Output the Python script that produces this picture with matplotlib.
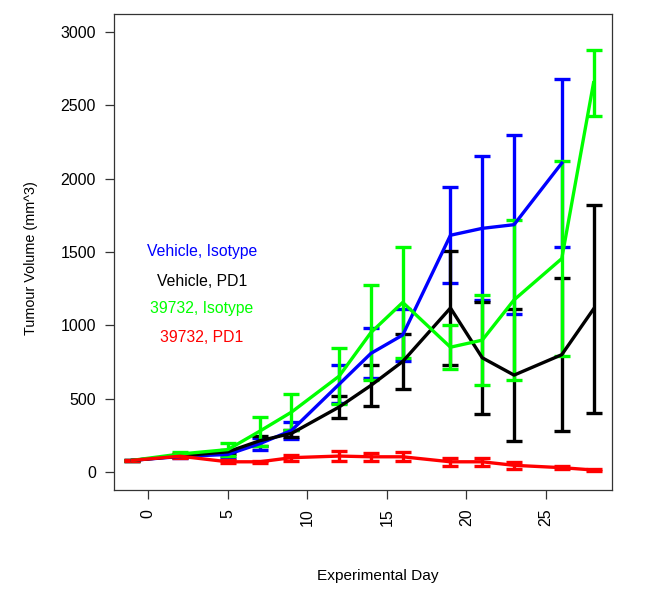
import numpy as np
import matplotlib
matplotlib.use("Agg")
import matplotlib.pyplot as plt

plt.rcParams['font.family'] = ['Liberation Sans', 'DejaVu Sans']

days = [-1, 2, 5, 7, 9, 12, 14, 16, 19, 21, 23, 26, 28]

series_names = ["Vehicle, Isotype", "Vehicle, PD1", "39732, Isotype", "39732, PD1"]
series_colors = ["#0000FF", "#000000", "#00FF00", "#FF0000"]

vehicle_isotype = [82, 108, 122, 195, 285, 600, 810, 935, 1614, 1661, 1686, 2105, np.nan]
vehicle_isotype_err = [5, 10, 22, 40, 58, 130, 170, 177, 326, 491, 609, 574, np.nan]

vehicle_pd1 = [82, 112, 140, 215, 265, 445, 592, 755, 1119, 780, 662, 801, 1112]
vehicle_pd1_err = [5, 10, 15, 35, 22, 77, 142, 187, 390, 383, 449, 520, 707]

c39732_isotype = [82, 125, 155, 280, 410, 655, 952, 1157, 852, 900, 1174, 1455, 2652]
c39732_isotype_err = [5, 12, 45, 100, 122, 190, 325, 379, 148, 308, 544, 665, 226]

c39732_pd1 = [82, 110, 72, 72, 100, 111, 106, 106, 72, 72, 48, 32, 16]
c39732_pd1_err = [5, 12, 10, 8, 20, 32, 28, 32, 28, 28, 22, 10, 5]

means = [vehicle_isotype, vehicle_pd1, c39732_isotype, c39732_pd1]
errs = [vehicle_isotype_err, vehicle_pd1_err, c39732_isotype_err, c39732_pd1_err]

x_ticks = [0, 5, 10, 15, 20, 25]
y_ticks = [0, 500, 1000, 1500, 2000, 2500, 3000]

fig = plt.figure(figsize=(6.53, 5.92), dpi=100)
ax = fig.add_axes([114/653, 1 - 490/592, (612-114)/653, (490-14)/592])

for m, e, c in zip(means, errs, series_colors):
    ax.errorbar(days, m, yerr=e, color=c, lw=2.4, elinewidth=2.4,
                capsize=5.8, capthick=2.4, zorder=3)

ax.set_xlim(-2.16, 29.16)
ax.set_ylim(-120, 3120)
ax.set_xticks(x_ticks)
ax.set_yticks(y_ticks)
ax.set_xticklabels([str(t) for t in x_ticks], rotation=90, fontsize=11.5)
ax.set_yticklabels([str(t) for t in y_ticks], fontsize=11.5)
ax.tick_params(axis='both', length=6.5, width=0.9, color='#333333')
ax.tick_params(axis='x', pad=7)
ax.tick_params(axis='y', pad=6.5)
for s in ax.spines.values():
    s.set_color('#333333')
    s.set_linewidth(0.9)

# legend-like coloured labels
legend_y = [251.7, 281.7, 309.0, 338.0]
for name, col, py in zip(series_names, series_colors, legend_y):
    fig.text(202/653, 1 - py/592, name, color=col, fontsize=11.3,
             ha='center', va='center')

fig.text(31/653, 1 - 258/592, "Tumour Volume (mm^3)", rotation=90,
         ha='center', va='center', fontsize=10.4)
fig.text(378/653, 1 - 576/592, "Experimental Day", ha='center',
         va='center', fontsize=11.1)

fig.savefig("out.png", dpi=100)
